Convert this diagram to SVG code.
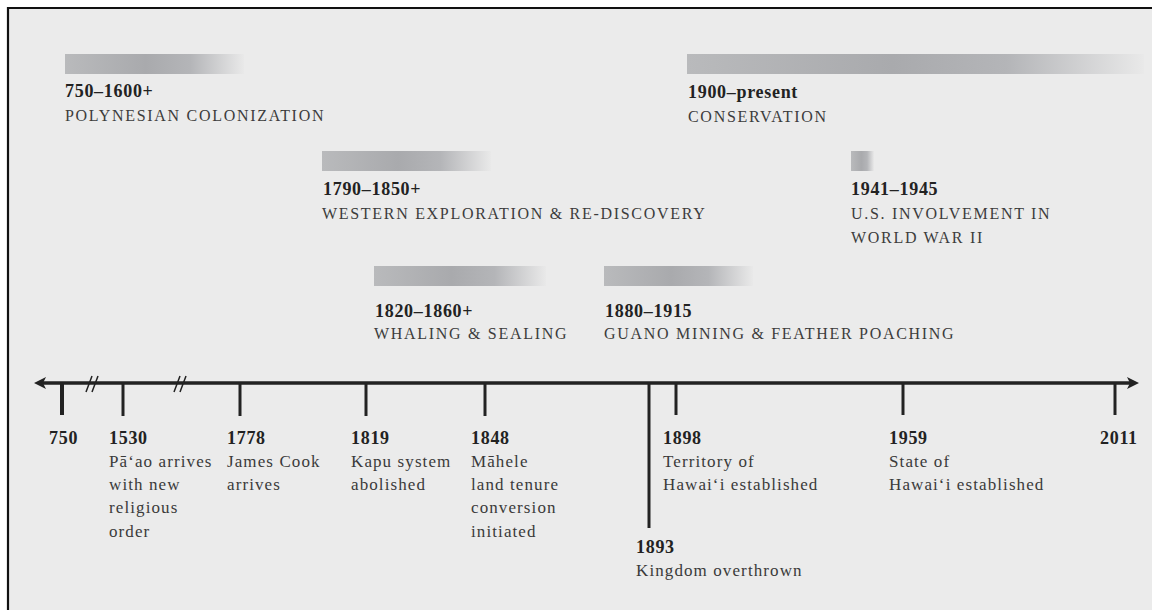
<svg xmlns="http://www.w3.org/2000/svg" width="1152" height="610" viewBox="0 0 1152 610">
<style>
.yr{font-family:"Liberation Serif","DejaVu Serif",serif;font-weight:bold;font-size:18px;fill:#222;letter-spacing:0.7px}
.cap{font-family:"Liberation Serif","DejaVu Serif",serif;font-size:16px;fill:#3c3c3c;letter-spacing:1.7px}
.ds{font-family:"Liberation Serif","DejaVu Serif",serif;font-size:17px;fill:#3a3a3a;letter-spacing:1.1px}
.tick{stroke:#222;stroke-width:3;fill:none}
.bar{fill:url(#g)}
</style>
<defs>
<linearGradient id="g" x1="0" y1="0" x2="1" y2="0">
<stop offset="0" stop-color="#b9babc"/>
<stop offset="0.45" stop-color="#a9aaad"/>
<stop offset="0.7" stop-color="#b4b5b8"/>
<stop offset="1" stop-color="#e9e9e9"/>
</linearGradient>
</defs>
<rect x="0" y="0" width="1152" height="610" fill="#ffffff"/>
<rect x="8" y="8" width="1152" height="610" fill="#ebebeb"/>
<path d="M8 610 V8 H1152" fill="none" stroke="#111" stroke-width="2.2"/>

<g id="era-polynesian">
<rect class="bar" x="65" y="54" width="179" height="20"/>
<text class="yr" x="65" y="97">750–1600+</text>
<text class="cap" x="65" y="121">POLYNESIAN COLONIZATION</text>
</g>
<g id="era-conservation">
<rect class="bar" x="687" y="54" width="457" height="20"/>
<text class="yr" x="688" y="98">1900–present</text>
<text class="cap" x="688" y="122">CONSERVATION</text>
</g>
<g id="era-western">
<rect class="bar" x="322" y="151" width="169" height="20"/>
<text class="yr" x="323" y="195">1790–1850+</text>
<text class="cap" x="322" y="219">WESTERN EXPLORATION &amp; RE-DISCOVERY</text>
</g>
<g id="era-wwii">
<rect class="bar" x="851" y="151" width="23" height="20"/>
<text class="yr" x="851" y="195">1941–1945</text>
<text class="cap" x="851" y="219">U.S. INVOLVEMENT IN</text>
<text class="cap" x="851" y="243">WORLD WAR II</text>
</g>
<g id="era-whaling">
<rect class="bar" x="374" y="266" width="172" height="20"/>
<text class="yr" x="375" y="317">1820–1860+</text>
<text class="cap" x="374" y="339">WHALING &amp; SEALING</text>
</g>
<g id="era-guano">
<rect class="bar" x="604" y="266" width="149" height="20"/>
<text class="yr" x="605" y="317">1880–1915</text>
<text class="cap" x="604" y="339">GUANO MINING &amp; FEATHER POACHING</text>
</g>

<g id="connectors">
<line x1="42" y1="383" x2="1130" y2="383" stroke="#222" stroke-width="3.5"/>
<path d="M34 383 L46 377 L43 383 L46 389 Z" fill="#222"/>
<path d="M1139 383 L1127 377 L1130 383 L1127 389 Z" fill="#222"/>
<path d="M86 392 L92 376 M92 392 L98 376" stroke="#222" stroke-width="1.5"/>
<path d="M174 392 L180 376 M180 392 L186 376" stroke="#222" stroke-width="1.5"/>
</g>

<g id="ev-750"><line class="tick" x1="62" y1="383" x2="62" y2="415" style="stroke-width:4"/><text class="yr" x="49" y="444">750</text></g>
<g id="ev-1530"><line class="tick" x1="123" y1="383" x2="123" y2="416"/><text class="yr" x="109" y="444">1530</text>
<text class="ds" x="109" y="467">Pāʻao arrives</text><text class="ds" x="109" y="490">with new</text><text class="ds" x="109" y="513">religious</text><text class="ds" x="109" y="537">order</text></g>
<g id="ev-1778"><line class="tick" x1="240" y1="383" x2="240" y2="416"/><text class="yr" x="227" y="444">1778</text>
<text class="ds" x="227" y="467">James Cook</text><text class="ds" x="227" y="490">arrives</text></g>
<g id="ev-1819"><line class="tick" x1="366" y1="383" x2="366" y2="416"/><text class="yr" x="351" y="444">1819</text>
<text class="ds" x="351" y="467">Kapu system</text><text class="ds" x="351" y="490">abolished</text></g>
<g id="ev-1848"><line class="tick" x1="485" y1="383" x2="485" y2="416"/><text class="yr" x="471" y="444">1848</text>
<text class="ds" x="471" y="467">Māhele</text><text class="ds" x="471" y="490">land tenure</text><text class="ds" x="471" y="513">conversion</text><text class="ds" x="471" y="537">initiated</text></g>
<g id="ev-1893"><line class="tick" x1="649" y1="383" x2="649" y2="528"/><text class="yr" x="636" y="553">1893</text>
<text class="ds" x="636" y="576">Kingdom overthrown</text></g>
<g id="ev-1898"><line class="tick" x1="676" y1="383" x2="676" y2="415"/><text class="yr" x="663" y="444">1898</text>
<text class="ds" x="663" y="467">Territory of</text><text class="ds" x="663" y="490">Hawaiʻi established</text></g>
<g id="ev-1959"><line class="tick" x1="903" y1="383" x2="903" y2="415"/><text class="yr" x="889" y="444">1959</text>
<text class="ds" x="889" y="467">State of</text><text class="ds" x="889" y="490">Hawaiʻi established</text></g>
<g id="ev-2011"><line class="tick" x1="1115" y1="383" x2="1115" y2="415"/><text class="yr" x="1100" y="444">2011</text></g>
</svg>
